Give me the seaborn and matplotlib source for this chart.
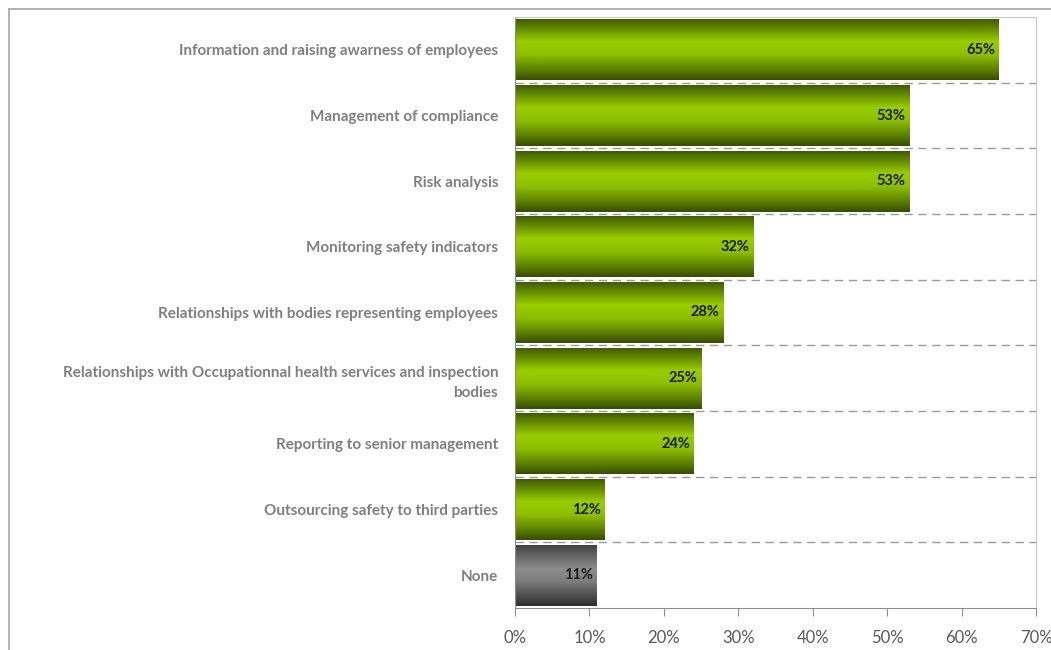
import numpy as np
import pandas as pd
import seaborn as sns
import matplotlib.pyplot as plt
import matplotlib.ticker as ticker
from matplotlib.colors import LinearSegmentedColormap
from matplotlib.lines import Line2D

# Datos del gráfico
categorias = [
    "Information and raising awarness of employees",
    "Management of compliance",
    "Risk analysis",
    "Monitoring safety indicators",
    "Relationships with bodies representing employees",
    "Relationships with Occupationnal health services and inspection\nbodies",
    "Reporting to senior management",
    "Outsourcing safety to third parties",
    "None",
]
valores = [65, 53, 53, 32, 28, 25, 24, 12, 11]
etiquetas = ["65%", "53%", "53%", "32%", "28%", "25%", "24%", "12%", "11%"]
ticks_x = [0, 10, 20, 30, 40, 50, 60, 70]

df = pd.DataFrame({"Categoria": categorias, "Valor": valores})

sns.set_style("white")
plt.rcParams['font.family'] = ['Lato', 'DejaVu Sans']

fig = plt.figure(figsize=(10.51, 6.5), dpi=100)
ax = fig.add_axes([515 / 1051, 1 - 608 / 650, (1036 - 515) / 1051, (608 - 17) / 650])

sns.barplot(data=df, x="Valor", y="Categoria", orient="h", color="#99cc00",
            width=0.93, ax=ax)

# Degradados tipo cilindro
verde = LinearSegmentedColormap.from_list("verde", [
    (0.0, "#3e5600"), (0.15, "#5f8400"), (0.38, "#9acd00"),
    (0.6, "#8cbd00"), (0.85, "#587a00"), (1.0, "#364c00")])
gris = LinearSegmentedColormap.from_list("gris", [
    (0.0, "#3c3c3c"), (0.15, "#5e5e5e"), (0.4, "#8c8c8c"),
    (0.6, "#7e7e7e"), (0.85, "#4a4a4a"), (1.0, "#2e2e2e")])
grad = np.linspace(0, 1, 256).reshape(-1, 1)

for i, p in enumerate(ax.patches):
    x0, y0 = p.get_x(), p.get_y()
    w, h = p.get_width(), p.get_height()
    cmap = gris if categorias[i] == "None" else verde
    im = ax.imshow(grad, cmap=cmap, aspect="auto", origin="upper",
                   extent=(x0, x0 + w, y0 + h, y0), zorder=2, interpolation="bilinear")
    im.set_clip_path(p)
    p.set_facecolor("none")
    p.set_edgecolor("none")
    ax.text(x0 + w - 0.5, y0 + h / 2, etiquetas[i], ha="right", va="center",
            fontsize=10.5, fontweight="bold", color="#1a1a1a", zorder=3)

ax.set_xlim(0, 70)
ax.set_ylim(len(categorias) - 0.5, -0.5)
ax.set_xticks(ticks_x)
ax.xaxis.set_major_formatter(ticker.FuncFormatter(lambda x, pos: f"{x:.0f}%"))

# Líneas punteadas entre categorías
limites = np.arange(-0.5, len(categorias) - 0.5 + 1)
ax.set_yticks(limites, minor=True)
ax.tick_params(axis="y", which="major", length=0, pad=12, labelsize=11,
               labelcolor="#7f7f7f")
ax.tick_params(axis="y", which="minor", length=6, color="#8c8c8c", direction="out")
for lab in ax.get_yticklabels():
    lab.set_fontweight("bold")
    lab.set_linespacing(1.55)
ax.tick_params(axis="x", length=6, color="#8c8c8c", direction="out", bottom=True,
               labelsize=12, labelcolor="#595959", pad=10)
for y in limites[1:-1]:
    ax.axhline(y, color="#9a9a9a", linestyle=(0, (6, 4)), linewidth=1, zorder=1)

ax.set_xlabel("")
ax.set_ylabel("")
for lado in ["left", "bottom"]:
    ax.spines[lado].set_color("#8c8c8c")
for lado in ["top", "right"]:
    ax.spines[lado].set_color("#c8c8c8")

# Borde exterior del gráfico
fig.add_artist(Line2D([9 / 1051, 9 / 1051], [1 - 9 / 650, 0], color="#a6a6a6", lw=1.2))
fig.add_artist(Line2D([9 / 1051, 1], [1 - 9 / 650, 1 - 9 / 650], color="#a6a6a6", lw=1.2))

fig.savefig("out.png", dpi=100)
